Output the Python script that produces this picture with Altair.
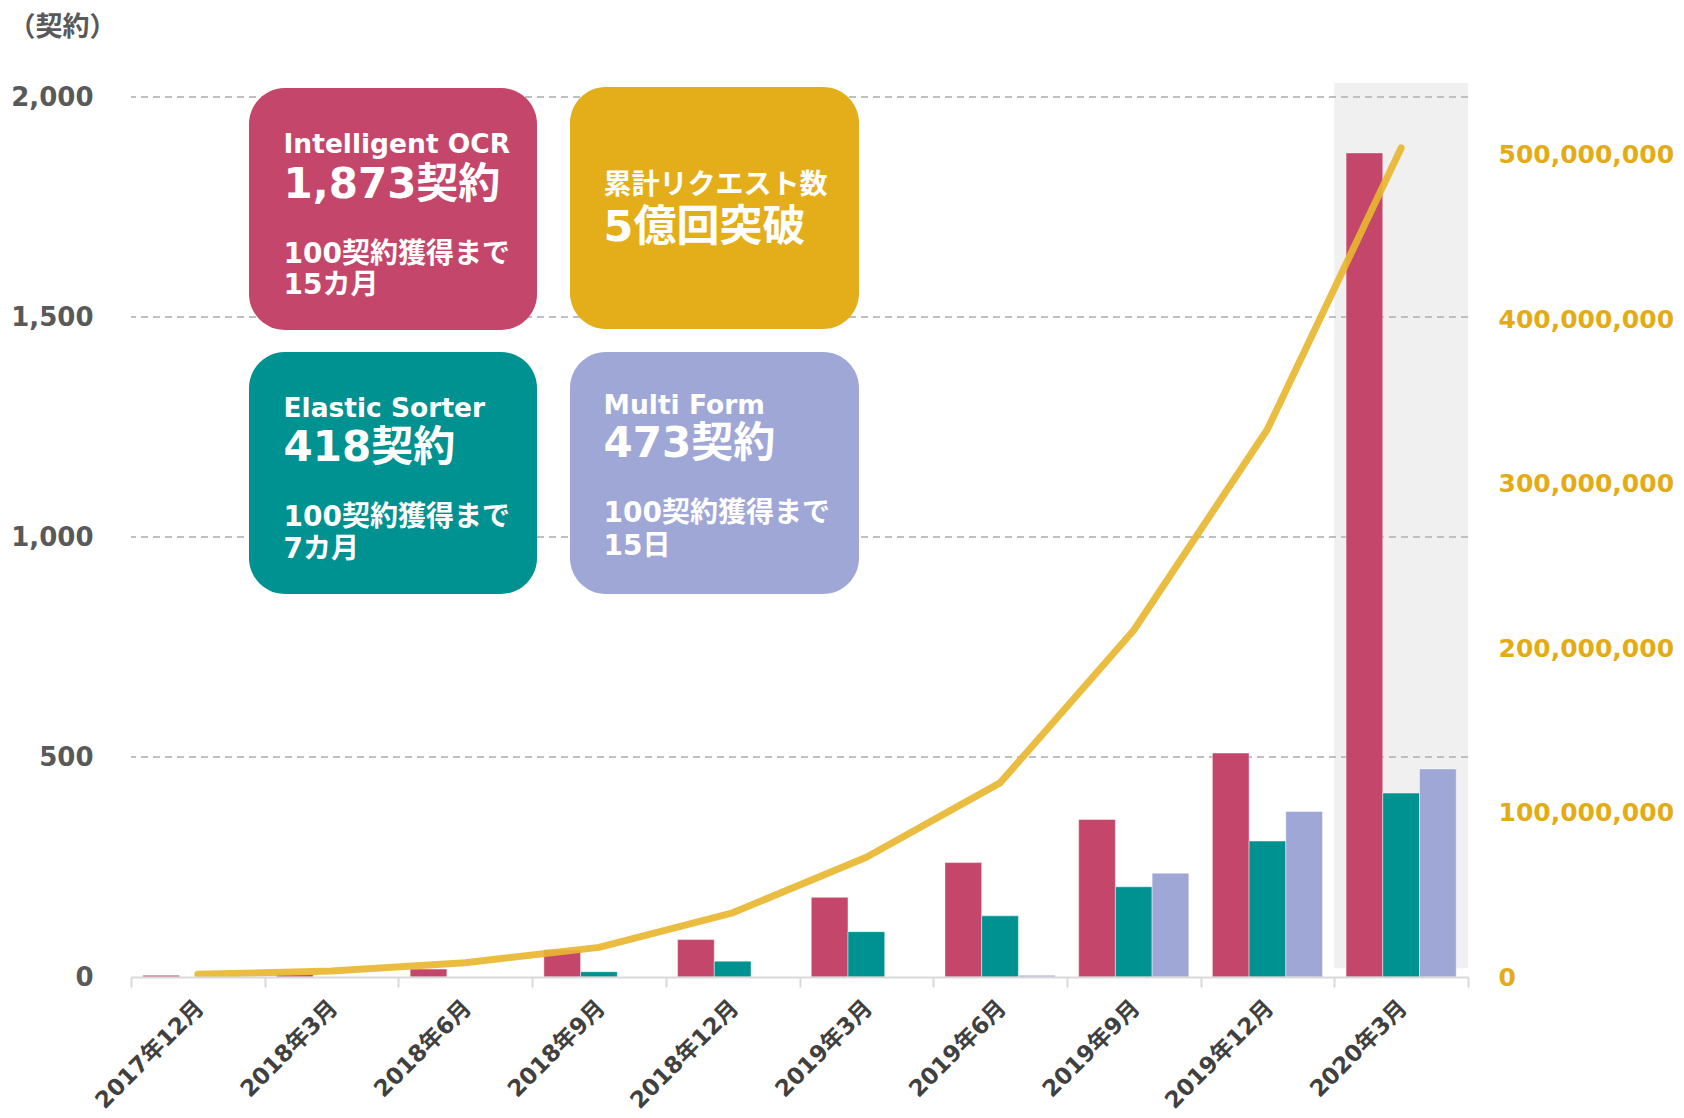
import altair as alt
import pandas as pd

# ---- data ----
periods = ["2017年12月", "2018年3月", "2018年6月", "2018年9月", "2018年12月",
           "2019年3月", "2019年6月", "2019年9月", "2019年12月", "2020年3月"]
series = ["Intelligent OCR", "Elastic Sorter", "Multi Form"]
ocr = [4, 6, 18, 62, 85, 181, 260, 358, 509, 1873]
sorter = [0, 0, 0, 12, 36, 103, 139, 205, 309, 418]
multiform = [0, 0, 0, 0, 0, 0, 4, 236, 376, 473]
requests = [1.6e6, 3.6e6, 8.7e6, 18e6, 39e6, 72.8e6, 118e6, 210.8e6, 333e6, 504e6]
left_ticks = [0, 500, 1000, 1500, 2000]
right_ticks = [0, 100000000, 200000000, 300000000, 400000000, 500000000]
grid_values = [500, 1000, 1500, 2000]
highlight_period = ["2020年3月"]

box1_text = ["Intelligent OCR", "1,873契約", "100契約獲得まで", "15カ月"]
box2_text = ["累計リクエスト数", "5億回突破"]
box3_text = ["Elastic Sorter", "418契約", "100契約獲得まで", "7カ月"]
box4_text = ["Multi Form", "473契約", "100契約獲得まで", "15日"]

# ---- tables ----
rows = []
for s, vals in zip(series, [ocr, sorter, multiform]):
    for p, v in zip(periods, vals):
        if v > 0:
            rows.append({"period": p, "series": s, "value": v})
bars_df = pd.DataFrame(rows)
line_df = pd.DataFrame({"period": periods, "requests": requests})
grid_df = pd.DataFrame({"g": grid_values})
hl_df = pd.DataFrame({"period": highlight_period, "lo": [20], "hi": [2032]})
one = pd.DataFrame({"k": [0]})

FONT = "DejaVu Sans, Noto Sans CJK JP"
xs = alt.Scale(domain=periods, paddingInner=0, paddingOuter=0)
x_axis = alt.Axis(labelAngle=-45, labelAlign="right", labelBaseline="middle",
                  labelFontSize=23, labelFontWeight="bold", labelColor="#404040",
                  labelPadding=17, labelOffset=2, tickBand="extent", tickSize=10,
                  tickColor="#D9D9D9", tickWidth=2, domainColor="#D9D9D9",
                  domainWidth=2, grid=False, labelFont=FONT, title=None)


def xenc():
    return alt.X("period:N", scale=xs, axis=x_axis, title=None)


def yscale():
    return alt.Scale(domain=[0, 2000], nice=False)


highlight = alt.Chart(hl_df).mark_rect(color="#F0F0F0").encode(
    x=xenc(),
    y=alt.Y("lo:Q", scale=yscale(), axis=None),
    y2="hi:Q",
)

grid = alt.Chart(grid_df).mark_rule(color="#BFBFBF", strokeWidth=2, strokeDash=[7, 5]).encode(
    y=alt.Y("g:Q", scale=yscale(), axis=None)
)

bars = alt.Chart(bars_df).mark_bar(stroke="white", strokeWidth=1, strokeOpacity=0.45).encode(
    x=xenc(),
    xOffset=alt.XOffset("series:N", scale=alt.Scale(domain=series, paddingInner=0, paddingOuter=0.32)),
    y=alt.Y(
        "value:Q", scale=yscale(),
        axis=alt.Axis(orient="left", values=left_ticks, format=",.0f", domain=False, ticks=False,
                      grid=False, labelFontSize=26, labelFontWeight="bold", labelColor="#595959",
                      labelPadding=38, labelFont=FONT,
                      title="（契約）", titleAngle=0, titleAlign="left", titleBaseline="middle",
                      titleX=-123, titleY=-70, titleFontSize=27, titleFontWeight="bold",
                      titleColor="#595959", titleFont="Noto Sans CJK JP"),
    ),
    color=alt.Color("series:N", scale=alt.Scale(domain=series, range=["#C4476B", "#009290", "#9FA7D6"]),
                    legend=None),
)

line = alt.Chart(line_df).mark_line(color="#E8B630", strokeWidth=7, strokeCap="round",
                                    strokeJoin="round", opacity=0.92).encode(
    x=xenc(),
    y=alt.Y(
        "requests:Q", scale=alt.Scale(domain=[0, 535e6], nice=False),
        axis=alt.Axis(orient="right", values=right_ticks, format=",.0f", domain=False, ticks=False,
                      grid=False, labelFontSize=25, labelFontWeight="bold", labelColor="#E3AC17",
                      labelPadding=30, labelFont=FONT, title=None),
    ),
)


def box(x, x2, y, y2, color):
    return alt.Chart(one).mark_rect(color=color, cornerRadius=36).encode(
        x=alt.value(x), x2=alt.value(x2), y=alt.value(y), y2=alt.value(y2))


def txt(x, y, t, size):
    return alt.Chart(one).mark_text(align="left", baseline="middle", fontSize=size, fontWeight="bold",
                                    color="white", font=FONT, text=t).encode(
        x=alt.value(x), y=alt.value(y))


annotations = [
    box(118, 406, -9, 233, "#C4476B"),
    box(439, 728, -10, 232, "#E3AE1A"),
    box(118, 406, 255, 497, "#009290"),
    box(439, 728, 255, 497, "#9FA7D6"),
    txt(152.5, 48, box1_text[0], 26.5), txt(152.5, 88, box1_text[1], 42),
    txt(152.5, 157.5, box1_text[2], 28), txt(152.5, 189, box1_text[3], 28),
    txt(472.6, 89, box2_text[0], 28), txt(472.6, 131, box2_text[1], 43),
    txt(152.5, 311.5, box3_text[0], 26.5), txt(152.5, 350.5, box3_text[1], 42),
    txt(152.5, 421, box3_text[2], 28), txt(152.5, 453, box3_text[3], 28),
    txt(472.6, 308.5, box4_text[0], 26.5), txt(472.6, 347, box4_text[1], 42),
    txt(472.6, 417, box4_text[2], 28), txt(472.6, 449.6, box4_text[3], 28),
]

chart = alt.layer(highlight, grid, bars, line, *annotations).resolve_scale(
    y="independent"
).properties(
    width=1337, height=880,
    padding={"left": 123, "top": 89, "right": 206, "bottom": 133},
    autosize=alt.AutoSizeParams(type="none"),
).configure(font=FONT).configure_view(stroke=None)

chart.save("out.html", embed_options={"renderer": "svg", "actions": False})
